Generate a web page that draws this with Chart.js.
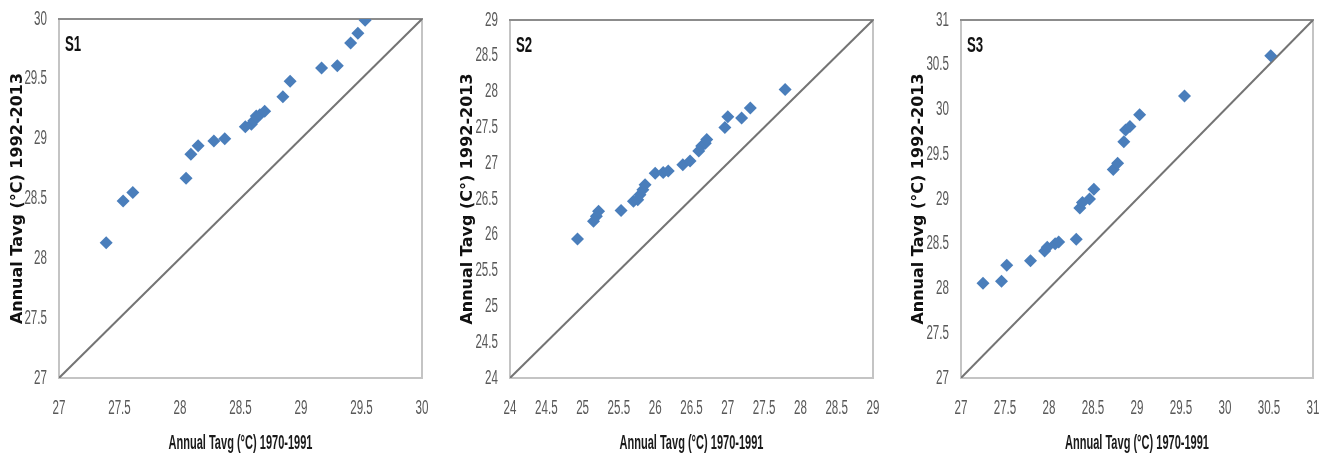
<!DOCTYPE html>
<html>
<head>
<meta charset="utf-8">
<script src="https://cdn.jsdelivr.net/npm/chart.js@4"></script>
<style>
  html, body { margin: 0; padding: 0; background: #fff; overflow: hidden; }
  .row { display: flex; width: 1327px; height: 453px; }
  .panel { position: relative; height: 453px; flex: none; }
  canvas { display: block; }
</style>
</head>
<body>
<div class="row">
  <div class="panel" style="width:440px"><canvas id="c1"></canvas></div>
  <div class="panel" style="width:445px"><canvas id="c2"></canvas></div>
  <div class="panel" style="width:442px"><canvas id="c3"></canvas></div>
</div>
<script>
// S1 station: 1970-1991 (x) vs 1992-2013 (y)
const s1X = [27.39, 27.53, 27.61, 28.05, 28.09, 28.15, 28.28, 28.37, 28.54, 28.59, 28.61, 28.63, 28.66, 28.70, 28.85, 28.91, 29.17, 29.30, 29.41, 29.47, 29.53];
const s1Y = [28.13, 28.48, 28.55, 28.67, 28.87, 28.94, 28.98, 29.00, 29.10, 29.12, 29.15, 29.19, 29.20, 29.23, 29.35, 29.48, 29.59, 29.61, 29.80, 29.88, 29.99];
const s1Ticks = [27, 27.5, 28, 28.5, 29, 29.5, 30];

// S2 station
const s2X = [24.93, 25.15, 25.19, 25.22, 25.53, 25.70, 25.76, 25.79, 25.83, 25.86, 26.00, 26.11, 26.18, 26.38, 26.48, 26.60, 26.64, 26.69, 26.71, 26.96, 27.00, 27.19, 27.31, 27.79];
const s2Y = [25.94, 26.19, 26.26, 26.33, 26.34, 26.47, 26.49, 26.56, 26.63, 26.70, 26.86, 26.87, 26.89, 26.98, 27.03, 27.17, 27.24, 27.28, 27.33, 27.50, 27.65, 27.63, 27.77, 28.03];
const s2Ticks = [24, 24.5, 25, 25.5, 26, 26.5, 27, 27.5, 28, 28.5, 29];

// S3 station
const s3X = [27.25, 27.46, 27.52, 27.79, 27.95, 27.98, 28.07, 28.11, 28.31, 28.35, 28.38, 28.46, 28.51, 28.73, 28.78, 28.85, 28.87, 28.92, 29.03, 29.54, 30.52];
const s3Y = [28.06, 28.08, 28.26, 28.31, 28.42, 28.46, 28.50, 28.52, 28.55, 28.90, 28.96, 29.00, 29.11, 29.33, 29.40, 29.64, 29.77, 29.81, 29.94, 30.15, 30.60];
const s3Ticks = [27, 27.5, 28, 28.5, 29, 29.5, 30, 30.5, 31];

const panelNames = ['S1', 'S2', 'S3'];
const xTitle = 'Annual Tavg (°C) 1970-1991';
const yTitles = ['Annual Tavg (°C) 1992-2013', 'Annual Tavg (C°) 1992-2013', 'Annual Tavg (°C) 1992-2013'];

const SANS = '"Liberation Sans", Arial, sans-serif';

// texto estrecho tipo Calibri: se dibuja con escala horizontal
function narrowText(c, text, x, y, font, sx, align) {
  c.save();
  c.font = font;
  c.textBaseline = 'middle';
  const w = c.measureText(text).width * sx;
  let x0 = x;
  if (align === 'center') x0 = x - w / 2;
  if (align === 'right') x0 = x - w;
  c.translate(x0, y);
  c.scale(sx, 1);
  c.textAlign = 'left';
  c.fillText(text, 0, 0);
  c.restore();
}

// caja del área de gráfico, etiqueta de estación
const frameAndLabel = {
  id: 'frameAndLabel',
  beforeDatasetsDraw(chart, args, opts) {
    const { left, right, top, bottom } = chart.chartArea;
    const c = chart.ctx;
    c.save();
    c.lineWidth = 2;
    c.strokeStyle = '#c4c4c4';
    c.strokeRect(left, top, right - left, bottom - top);
    c.strokeStyle = '#8c8c8c';
    c.beginPath();
    c.moveTo(left - 1, top);
    c.lineTo(right + 1, top);
    c.stroke();
    c.fillStyle = '#111';
    narrowText(c, opts.label, left + 6, top + 26, 'bold 22px ' + SANS, 0.6, 'left');
    c.restore();
  },
  // etiquetas de los ejes con letra estrecha, en las posiciones de las escalas
  afterDraw(chart) {
    const { left, right, bottom } = chart.chartArea;
    const c = chart.ctx;
    const xs = chart.scales.x, ys = chart.scales.y;
    c.save();
    c.fillStyle = '#595959';
    xs.ticks.forEach(t => {
      narrowText(c, String(t.value), xs.getPixelForValue(t.value), bottom + 30, '20px ' + SANS, 0.58, 'center');
    });
    ys.ticks.forEach(t => {
      narrowText(c, String(t.value), left - 12, ys.getPixelForValue(t.value), '20px ' + SANS, 0.58, 'right');
    });
    c.fillStyle = '#1a1a1a';
    c.font = 'bold 20px ' + SANS;
    const sx = 144 / c.measureText(xTitle).width;
    narrowText(c, xTitle, (left + right) / 2, 443, 'bold 20px ' + SANS, sx, 'center');
    c.restore();
  }
};

function makePanel(id, name, xs, ys, ticks, yTitle, pad, axisW) {
  const lo = ticks[0], hi = ticks[ticks.length - 1];
  const pts = xs.map((x, i) => ({ x, y: ys[i] }));
  new Chart(document.getElementById(id), {
    type: 'scatter',
    data: {
      datasets: [
        {
          type: 'line',
          data: [{ x: lo, y: lo }, { x: hi, y: hi }],
          borderColor: '#747474',
          borderWidth: 2,
          pointRadius: 0,
          order: 2
        },
        {
          data: pts,
          pointStyle: 'rectRot',
          pointRadius: 6.5,
          backgroundColor: '#4a7ebb',
          borderColor: '#4a7ebb',
          borderWidth: 0,
          order: 1
        }
      ]
    },
    options: {
      responsive: true,
      maintainAspectRatio: false,
      animation: false,
      layout: { padding: pad },
      plugins: {
        legend: { display: false },
        tooltip: { enabled: false },
        frameAndLabel: { label: name }
      },
      scales: {
        x: {
          type: 'linear',
          min: lo, max: hi,
          afterBuildTicks: s => { s.ticks = ticks.map(v => ({ value: v })); },
          afterFit: s => { s.height = 74; },
          grid: { display: false },
          border: { display: false },
          ticks: { display: false }
        },
        y: {
          type: 'linear',
          min: lo, max: hi,
          afterBuildTicks: s => { s.ticks = ticks.map(v => ({ value: v })); },
          afterFit: s => { s.width = axisW; },
          grid: { display: false },
          border: { display: false },
          ticks: { display: false },
          title: { display: true, text: yTitle, color: '#111', padding: 0,
                   font: { family: '"DejaVu Sans", sans-serif', size: 16, weight: 'bold' } }
        }
      }
    },
    plugins: [frameAndLabel]
  });
}

makePanel('c1', panelNames[0], s1X, s1Y, s1Ticks, yTitles[0], { left: 8, right: 18, top: 19, bottom: 1 }, 51);
makePanel('c2', panelNames[1], s2X, s2Y, s2Ticks, yTitles[1], { left: 18, right: 12, top: 20, bottom: 1 }, 52);
makePanel('c3', panelNames[2], s3X, s3Y, s3Ticks, yTitles[2], { left: 24, right: 14, top: 20, bottom: 1 }, 52);
</script>
</body>
</html>
